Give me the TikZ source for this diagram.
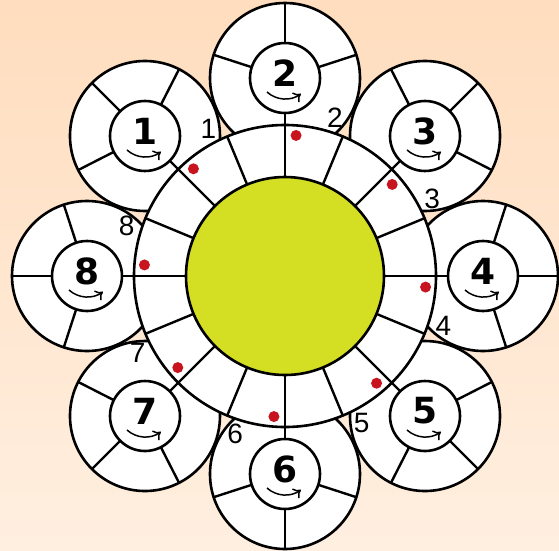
\documentclass[tikz,border=0pt]{standalone}
\usepackage{fontspec}
\setmainfont{Liberation Sans}
\newfontfamily\numfont{DejaVu Sans}
\usetikzlibrary{arrows.meta}

\definecolor{peachtop}{RGB}{255,221,190}
\definecolor{peachbottom}{RGB}{255,239,224}
\definecolor{hubgreen}{RGB}{212,222,34}
\definecolor{dotred}{RGB}{200,20,30}

\begin{document}
\begin{tikzpicture}[
    x=1pt, y=1pt,
    line join=round,
    outline/.style={draw=black, line width=2.6pt},
    spoke/.style={draw=black, line width=2.4pt},
    turn/.style={draw=black, line width=1.5pt, -{To[length=7pt, width=12pt]}},
    bignum/.style={font=\numfont\bfseries\fontsize{36}{36}\selectfont, inner sep=0pt},
    seatnum/.style={font=\fontsize{28}{28}\selectfont, inner sep=0pt},
    dot/.style={circle, fill=dotred, inner sep=0pt, minimum size=11pt}
]

% frame and background
\useasboundingbox (-285,-274) rectangle (274,276);
\shade[top color=peachtop, bottom color=peachbottom] (-285,-274) rectangle (274,276);

% the eight petals
\foreach \k in {1,...,8} {
    \pgfmathsetmacro{\a}{135-45*(\k-1)}
    \coordinate (p\k) at (\a:198);
    \filldraw[outline, fill=white] (p\k) circle (75);
    \foreach \s in {0,72,-72,180}
        \draw[spoke] (p\k) ++(\a+\s:35) -- ++(\a+\s:40);
    \filldraw[outline, fill=white] (p\k) circle (35);
    \node[bignum] (n\k) at ([yshift=5pt]p\k) {\k};
    \draw[turn] (p\k) ++(-18,-14) arc[start angle=228, end angle=306, radius=27];
}

% hub ring
\coordinate (hub) at (0,0);
\fill[white] (hub) circle (151);
\foreach \j in {0,...,15}
    \draw[spoke] (\j*22.5:99) -- (\j*22.5:151);
\draw[outline] (hub) circle (151);
\filldraw[outline, fill=hubgreen] (hub) circle (99);

% dots and seat numbers
\foreach \k in {1,...,8} {
    \node[dot] (d\k) at ({130.5-45*(\k-1)}:141) {};
    \node[seatnum] (s\k) at ({117.5-45*(\k-1)}:166) {\k};
}
\end{tikzpicture}
\end{document}
